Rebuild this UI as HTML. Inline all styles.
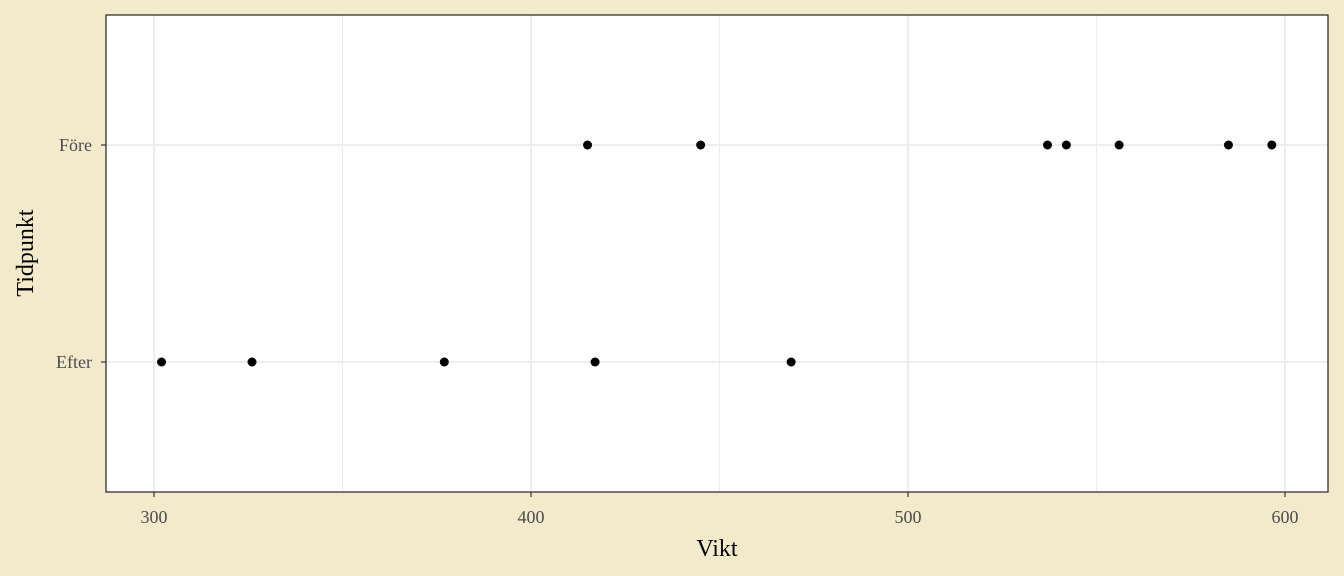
<!DOCTYPE html>
<html><head><meta charset="utf-8"><style>
body{margin:0;background:#f3e9cb;}
svg{display:block;font-family:"Liberation Serif",serif;}
</style></head><body>
<svg id="chart" width="1344" height="576">
<rect x="0" y="0" width="1344" height="576" fill="#f3e9cb"/>
<rect x="106" y="15" width="1222" height="477" fill="#fff"/>
<g id="grid"></g>
<g id="points"></g>
<rect x="106" y="15" width="1222" height="477" fill="none" stroke="#222" stroke-width="1.2"/>
<g id="axes"></g>
<text x="717" y="556" font-size="24" text-anchor="middle" fill="#000">Vikt</text>
<text transform="translate(33,253) rotate(-90)" font-size="24" text-anchor="middle" fill="#000">Tidpunkt</text>
</svg>
<script>
const categories=["Efter","Före"];
const foreValues=[415,445,537,542,556,585,596.5];
const efterValues=[302,326,377,417,469];
const xTicks=[300,400,500,600];
const xMinor=[350,450,550];
const ns="http://www.w3.org/2000/svg";
function xs(v){return 154+(v-300)*3.77;}
function ys(c){return c==="Före"?145:362;}
function mk(tag,attrs,parent){const e=document.createElementNS(ns,tag);for(const k in attrs)e.setAttribute(k,attrs[k]);document.getElementById(parent).appendChild(e);return e;}
xMinor.forEach(v=>{const l=mk('line',{x1:xs(v),x2:xs(v),y1:15,y2:492,stroke:'#ebebeb','stroke-width':1},'grid');

});
xTicks.forEach(v=>{const l=mk('line',{x1:xs(v),x2:xs(v),y1:15,y2:492,stroke:'#ebebeb','stroke-width':1.8},'grid');


const t=mk('line',{x1:xs(v),x2:xs(v),y1:492,y2:497,stroke:'#333','stroke-width':1.2},'axes');


const tx=mk('text',{x:xs(v),y:523,'font-size':18,'text-anchor':'middle',fill:'#4d4d4d'},'axes');tx.textContent=v;

});
categories.forEach(c=>{const l=mk('line',{x1:106,x2:1328,y1:ys(c),y2:ys(c),stroke:'#ebebeb','stroke-width':1.8},'grid');


const t=mk('line',{x1:101,x2:106,y1:ys(c),y2:ys(c),stroke:'#333','stroke-width':1.2},'axes');


const tx=mk('text',{x:92,y:ys(c)+6,'font-size':18,'text-anchor':'end',fill:'#4d4d4d'},'axes');tx.textContent=c;

});
foreValues.forEach(v=>{const p=mk('circle',{cx:xs(v),cy:ys("Före"),r:4.5,fill:'#000'},'points');

});
efterValues.forEach(v=>{const p=mk('circle',{cx:xs(v),cy:ys("Efter"),r:4.5,fill:'#000'},'points');

});
</script>
</body></html>
